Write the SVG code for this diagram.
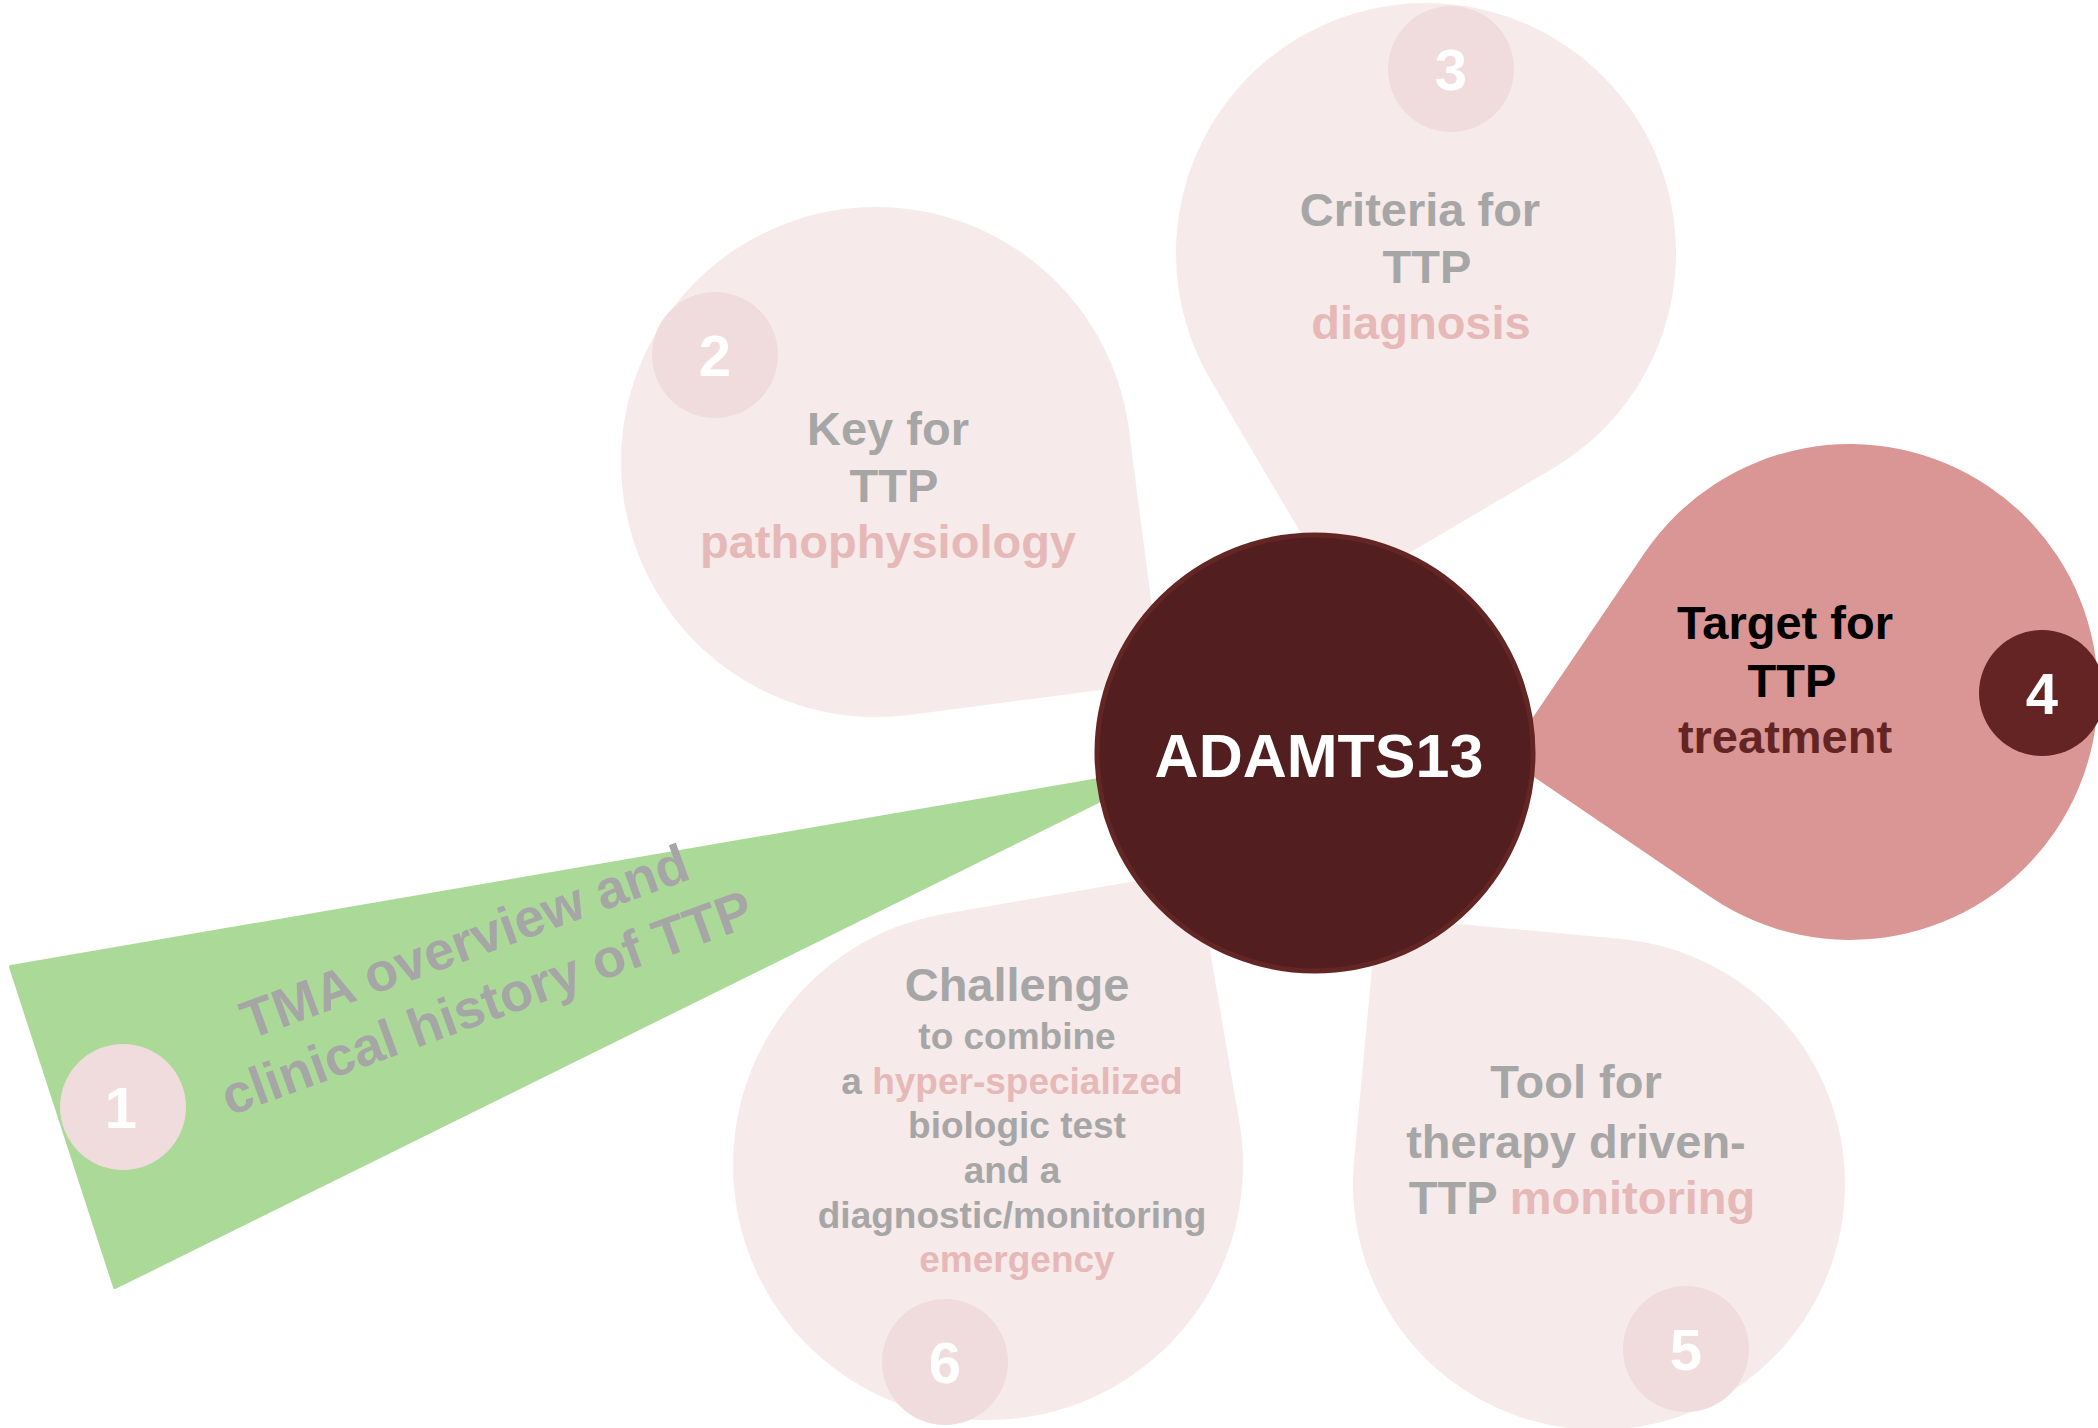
<svg xmlns="http://www.w3.org/2000/svg" width="2098" height="1428" viewBox="0 0 2098 1428">
<defs>
<path id="tear" d="M0,-1 L1,-1 L1,0 A1 1 0 1 1 0,-1 Z"/>
</defs>
<style>
text{font-family:"Liberation Sans",Arial,Helvetica,sans-serif;font-weight:bold;text-anchor:middle}
.pale{fill:#F6EAEA}
.num{fill:#F0DCDC}
.g{fill:#A6A6A6}
.p{fill:#E6B8B7}
.t47{font-size:47px}
.t37{font-size:37px}
.n{font-size:58px;fill:#FFFFFF}
</style>
<rect width="2098" height="1428" fill="#FFFFFF"/>

<g id="petal-2">
<use href="#tear" class="pale" transform="translate(876,462) rotate(82.6) scale(255)"/>
<circle class="num" cx="715" cy="355" r="63"/>
<text class="n" x="715" y="376">2</text>
<text class="t47 g" x="888" y="445">Key for</text>
<text class="t47 g" x="894" y="502">TTP</text>
<text class="t47 p" x="888" y="558">pathophysiology</text>
</g>

<g id="petal-3">
<use href="#tear" class="pale" transform="translate(1426,253) rotate(149.5) scale(250)"/>
<circle class="num" cx="1451" cy="69" r="63"/>
<text class="n" x="1451" y="90">3</text>
<text class="t47 g" x="1420" y="226">Criteria for</text>
<text class="t47 g" x="1427" y="283">TTP</text>
<text class="t47 p" x="1421" y="339">diagnosis</text>
</g>

<g id="petal-5">
<use href="#tear" class="pale" transform="translate(1599,1184) rotate(275.3) scale(246)"/>
<circle class="num" cx="1686" cy="1349" r="63"/>
<text class="n" x="1686" y="1370">5</text>
<text class="t47 g" x="1576" y="1098">Tool for</text>
<text class="t47 g" x="1576" y="1158">therapy driven-</text>
<text class="t47 g" x="1582" y="1214">TTP <tspan class="p">monitoring</tspan></text>
</g>

<g id="petal-6">
<use href="#tear" class="pale" transform="translate(988,1165) rotate(-9.7) scale(255)"/>
<circle class="num" cx="945" cy="1362" r="63"/>
<text class="n" x="945" y="1383">6</text>
<text class="t47 g" x="1017" y="1001">Challenge</text>
<text class="t37 g" x="1017" y="1049">to combine</text>
<text class="t37 g" x="1012" y="1094">a <tspan class="p">hyper-specialized</tspan></text>
<text class="t37 g" x="1017" y="1138">biologic test</text>
<text class="t37 g" x="1012" y="1183">and a</text>
<text class="t37 g" x="1012" y="1228">diagnostic/monitoring</text>
<text class="t37 p" x="1017" y="1272">emergency</text>
</g>

<g id="petal-1">
<polygon points="11,967 1163,769 115,1287" fill="#ABD998" stroke="#ABD998" stroke-width="4" stroke-linejoin="round"/>
<circle class="num" cx="123" cy="1107" r="63"/>
<text class="n" x="121" y="1128">1</text>
<g transform="translate(471,959) rotate(-20)">
<text class="g" font-size="54" x="0" y="0">TMA overview and</text>
<text class="g" font-size="54" x="0" y="65">clinical history of TTP</text>
</g>
</g>

<g id="petal-4">
<use href="#tear" fill="#D99694" transform="translate(1850,692) rotate(214.2) scale(248)"/>
<circle cx="2042" cy="693" r="63" fill="#632423"/>
<text class="n" x="2042" y="714">4</text>
<text class="t47" fill="#000000" x="1785" y="639">Target for</text>
<text class="t47" fill="#000000" x="1792" y="697">TTP</text>
<text class="t47" fill="#632423" x="1785" y="753">treatment</text>
</g>

<g id="adamts13">
<circle cx="1315" cy="753" r="218" fill="#531E1F" stroke="#642625" stroke-width="5"/>
<text x="1319" y="777" font-size="61" fill="#FFFFFF">ADAMTS13</text>
</g>
</svg>
